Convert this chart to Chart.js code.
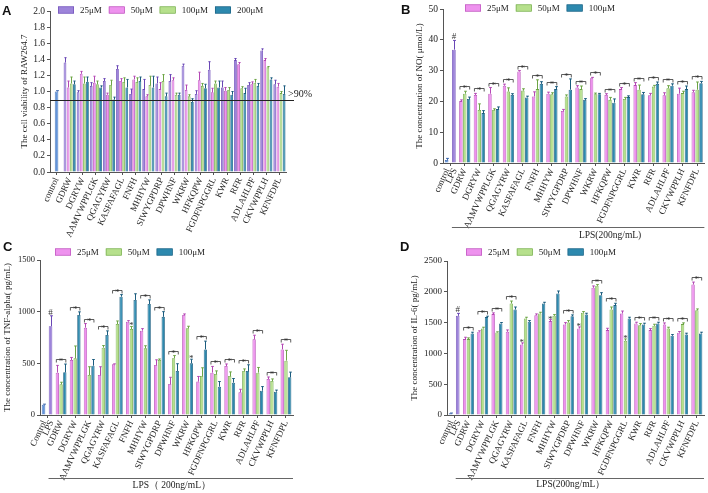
<!DOCTYPE html>
<html>
<head>
<meta charset="utf-8">
<title>Peptide assays</title>
<script src="https://cdn.jsdelivr.net/npm/chart.js@4.4.1/dist/chart.umd.min.js"></script>
<style>
  body { margin: 0; background: #fff; }
  #fig { position: relative; width: 708px; height: 493px; overflow: hidden; background: #fff; }
  .box { position: absolute; }
  .tag { position: absolute; font: bold 13px "Liberation Sans", Arial, sans-serif; color: #111; line-height: 1; }
</style>
</head>
<body>
<div id="fig">
  <div class="box" style="left:0;top:0;width:345px;height:243px"><canvas id="chartA"></canvas></div>
  <div class="box" style="left:355px;top:0;width:353px;height:243px"><canvas id="chartB"></canvas></div>
  <div class="box" style="left:0;top:245px;width:345px;height:248px"><canvas id="chartC"></canvas></div>
  <div class="box" style="left:355px;top:245px;width:353px;height:248px"><canvas id="chartD"></canvas></div>
  <div class="tag" style="left:2px;top:4px">A</div>
  <div class="tag" style="left:401px;top:3px">B</div>
  <div class="tag" style="left:3px;top:240px">C</div>
  <div class="tag" style="left:400px;top:240px">D</div>
</div>
<script>
const SERIF = '"Liberation Serif", "Times New Roman", serif';
Chart.defaults.font.family = SERIF;
Chart.defaults.color = '#222';
Chart.defaults.animation = false;

const peptides = ['GDRW', 'DGRYW', 'AAMVWPPLGK', 'QGAGYRW', 'KASFAFAGL', 'FNFH', 'MHHYW', 'SIWYGPDRP',
  'DPWHNF', 'WKRW', 'HFKQPW', 'FGDFNPGGRL', 'KWR', 'RFR', 'ADLAHLPF', 'CKVWPPLH', 'KFNFDPL'];

// A - cell viability of RAW264.7
const viabControl = [1.00];
const viabControlErr = [0.01];
const viab25  = [1.36, 0.99, 1.07, 1.13, 1.28, 0.97, 1.03, 1.10, 1.13, 1.32, 0.97, 1.27, 1.05, 1.39, 1.08, 1.51, 1.09];
const viab50  = [1.05, 1.22, 1.11, 0.96, 1.13, 1.15, 0.94, 1.03, 1.14, 1.02, 1.14, 0.99, 1.01, 1.34, 1.09, 1.39, 1.06];
const viab100 = [1.10, 1.10, 1.09, 1.08, 1.12, 1.12, 1.08, 1.13, 0.96, 0.94, 1.07, 1.10, 1.02, 1.04, 1.11, 1.30, 0.98];
const viab200 = [1.09, 1.12, 1.05, 0.90, 1.05, 1.13, 1.05, 0.94, 0.96, 0.87, 1.04, 1.05, 0.96, 0.98, 1.07, 1.15, 0.97];
const viab25Err  = [0.06, 0.02, 0.04, 0.03, 0.04, 0.06, 0.12, 0.08, 0.08, 0.02, 0.04, 0.10, 0.08, 0.02, 0.03, 0.02, 0.05];
const viab50Err  = [0.08, 0.03, 0.08, 0.02, 0.03, 0.04, 0.02, 0.08, 0.03, 0.06, 0.10, 0.05, 0.04, 0.02, 0.03, 0.02, 0.04];
const viab100Err = [0.08, 0.08, 0.04, 0.06, 0.05, 0.05, 0.11, 0.08, 0.02, 0.02, 0.03, 0.03, 0.03, 0.02, 0.04, 0.01, 0.02];
const viab200Err = [0.04, 0.06, 0.02, 0.03, 0.10, 0.05, 0.14, 0.04, 0.02, 0.04, 0.05, 0.08, 0.04, 0.06, 0.03, 0.02, 0.10];

// B - NO (umol/L)
const noControl = [1.0], noControlErr = [0.5];
const noLps = [36.8], noLpsErr = [3.0];
const no25  = [20.1, 22.1, 22.5, 25.1, 29.7, 21.6, 22.5, 16.9, 24.5, 27.5, 22.1, 24.0, 25.3, 22.0, 22.0, 22.5, 23.0];
const no50  = [22.5, 17.2, 17.2, 23.2, 23.5, 24.0, 22.3, 21.6, 24.0, 22.3, 20.5, 20.8, 23.8, 24.8, 24.3, 22.7, 23.8];
const no100 = [20.8, 16.2, 17.5, 22.1, 21.3, 25.7, 24.0, 23.8, 20.5, 22.3, 19.6, 21.4, 22.3, 25.7, 25.1, 24.0, 25.9];
const no25Err  = [0.4, 0.5, 2.0, 0.5, 0.3, 1.5, 0.5, 0.5, 0.6, 0.3, 0.4, 0.5, 0.8, 0.6, 0.8, 1.8, 0.6];
const no50Err  = [0.8, 2.0, 0.4, 1.2, 0.6, 3.0, 0.5, 0.5, 1.0, 0.4, 0.8, 0.5, 1.5, 0.4, 0.8, 0.6, 2.5];
const no100Err = [0.6, 0.8, 0.7, 0.4, 0.4, 0.7, 0.8, 3.5, 0.4, 0.3, 1.2, 0.4, 0.6, 0.6, 0.6, 1.0, 0.6];
const noMarks = ['b', 'b', 'b', 'b', 'b', 'b', 'b', 'b', 'b', 'b', 'b', 'b', 'b', 'b', 'b', 'b', 'b'];

// C - TNF-alpha (pg/mL)
const tnfControl = [100], tnfControlErr = [5];
const tnfLps = [860], tnfLpsErr = [100];
const tnf25  = [410, 532, 845, 387, 490, 903, 816, 484, 300, 968, 323, 410, 474, 219, 732, 348, 635];
const tnf50  = [297, 548, 387, 652, 880, 832, 645, 532, 550, 839, 377, 397, 377, 426, 410, 329, 526];
const tnf100 = [413, 968, 477, 774, 1145, 1113, 1074, 950, 426, 500, 635, 274, 313, 426, 235, 226, 365];
const tnf25Err  = [70, 25, 40, 80, 5, 10, 20, 50, 65, 10, 50, 60, 20, 30, 40, 20, 50];
const tnf50Err  = [20, 120, 80, 20, 30, 25, 25, 10, 25, 20, 80, 30, 40, 20, 50, 20, 100];
const tnf100Err = [80, 30, 60, 40, 20, 60, 40, 50, 70, 40, 80, 50, 40, 60, 40, 15, 50];
const tnfMarks = ['b', 'b', 'b', 'b', 'b', 's1', 'b', 'b', 'b', 's2', 'b', 'b', 'b', 'b', 'b', 'b', 'b'];

// D - IL-6 (pg/mL)
const il6Control = [27], il6ControlErr = [5];
const il6Lps = [1610], il6LpsErr = [40];
const il625  = [1232, 1351, 1638, 1351, 1146, 1621, 1524, 1470, 1405, 2065, 1378, 1648, 1486, 1378, 1470, 1335, 2118];
const il650  = [1232, 1405, 1340, 1810, 1567, 1648, 1610, 1503, 1659, 2097, 1713, 1205, 1459, 1448, 1405, 1476, 1702];
const il6100 = [1324, 1589, 1486, 1713, 1513, 1810, 1973, 1605, 1632, 1946, 1784, 1567, 1470, 1486, 1286, 1308, 1324];
const il625Err  = [30, 15, 20, 30, 25, 20, 25, 30, 25, 30, 30, 40, 20, 25, 25, 20, 40];
const il650Err  = [20, 20, 10, 40, 20, 20, 20, 30, 20, 20, 40, 30, 25, 25, 20, 20, 20];
const il6100Err = [20, 15, 15, 40, 20, 20, 40, 20, 20, 40, 30, 20, 20, 20, 20, 20, 20];
const il6Marks = ['b', 'b', 'b', 'b', 's0', '', 's0', 'b', 's0', 'b', 'b', 's1', 'b', 'b', 'b', 'b', 'b'];

const colors = {
  purple: ['#9d84da', '#6946b5'],
  pink:   ['#ee92ee', '#b448b4'],
  green:  ['#b6e08c', '#6da545'],
  blue:   ['#2d89ae', '#1b5c7e'],
  ctrl:   ['#6294da', '#3b66ad']
};

const none = peptides.map(() => null);
const ROT = 65;

function bars(label, data, err, c, extra) {
  return Object.assign({
    label, data, err,
    backgroundColor: c[0], borderColor: c[1], borderWidth: 0.8
  }, extra || {});
}
// single bars (control / LPS) sit alone in the first category
function single(label, v, e, c) {
  return bars(label, [v[0], ...none], [e[0], ...none], c, { maxBarThickness: 3.6, categoryPercentage: 1, single: true });
}
function series(label, v, e, c) {
  return bars(label, [null, ...v], [null, ...e], c, { inLegend: true });
}

// error bars, significance brackets, legend, reference line, LPS bracket
const extras = {
  id: 'extras',
  afterDatasetsDraw(chart, args, o) {
    const ctx = chart.ctx, ys = chart.scales.y, area = chart.chartArea;
    const dsets = chart.data.datasets;
    const topOf = (i, j) => ys.getPixelForValue(dsets[i].data[j] + (dsets[i].err[j] || 0));
    ctx.save();
    ctx.lineWidth = 1;
    dsets.forEach((ds, i) => {
      chart.getDatasetMeta(i).data.forEach((bar, j) => {
        const v = ds.data[j], e = ds.err[j];
        if (v == null || !e) return;
        const yt = topOf(i, j);
        const x = Math.round(bar.x) + 0.5;
        const cap = Math.max(bar.width * 0.4, 1);
        ctx.strokeStyle = ds.borderColor;
        ctx.beginPath();
        ctx.moveTo(x, bar.y); ctx.lineTo(x, yt);
        ctx.moveTo(x - cap, yt); ctx.lineTo(x + cap, yt);
        ctx.stroke();
      });
    });

    // labels of the single bars in the first category (control, LPS)
    if (o.firstLabels) {
      ctx.font = '9px ' + SERIF;
      ctx.fillStyle = '#222';
      ctx.textAlign = 'right';
      ctx.textBaseline = 'middle';
      dsets.forEach((ds, i) => {
        if (!ds.single) return;
        const b = chart.getDatasetMeta(i).data[0];
        ctx.save();
        ctx.translate(b.x + 1, area.bottom + 6);
        ctx.rotate(-ROT * Math.PI / 180);
        ctx.fillText(ds.label, 0, 0);
        ctx.restore();
      });
    }

    // significance marks
    ctx.font = '9px ' + SERIF;
    ctx.textAlign = 'center';
    ctx.textBaseline = 'alphabetic';
    ctx.strokeStyle = '#333';
    ctx.fillStyle = '#333';
    ctx.lineWidth = 0.8;
    (o.marks || []).forEach((m, k) => {
      if (!m) return;
      const j = k + 1;
      const sets = o.sigSets;
      const tops = sets.map(i => topOf(i, j));
      const xs = sets.map(i => chart.getDatasetMeta(i).data[j].x);
      if (m === 'b') {
        const yb = Math.round(Math.min(...tops) - 5) + 0.5;
        const x0 = xs[0] - 1, x1 = xs[xs.length - 1] + 1;
        ctx.beginPath();
        ctx.moveTo(x0, yb + 3); ctx.lineTo(x0, yb); ctx.lineTo(x1, yb); ctx.lineTo(x1, yb + 3);
        ctx.stroke();
        ctx.fillText('*', (x0 + x1) / 2, yb + 4);
      } else {
        const n = +m.slice(1);
        ctx.fillText('*', xs[n], tops[n] + 2);
      }
    });
    if (o.hash != null) {
      const b = chart.getDatasetMeta(o.hash).data[0];
      ctx.fillText('#', b.x, topOf(o.hash, 0) - 1);
    }

    // reference line (>90%)
    if (o.refLine) {
      const y = Math.round(ys.getPixelForValue(o.refLine.value)) + 0.5;
      ctx.strokeStyle = '#222';
      ctx.lineWidth = 1;
      ctx.beginPath();
      ctx.moveTo(area.left, y); ctx.lineTo(area.right + 8, y);
      ctx.stroke();
      ctx.font = '10px ' + SERIF;
      ctx.fillStyle = '#222';
      ctx.textAlign = 'left';
      ctx.fillText(o.refLine.text, area.right + 2, y - 4);
    }

    // LPS treatment line under the axis labels
    if (o.lps) {
      const lx = chart.getDatasetMeta(o.lps.from).data[0].x;
      const y = Math.round(area.bottom + o.lps.dy) + 0.5;
      ctx.strokeStyle = '#666';
      ctx.lineWidth = 1;
      ctx.beginPath();
      ctx.moveTo(lx - 2, y); ctx.lineTo(area.right, y);
      ctx.stroke();
      ctx.font = '9.5px ' + SERIF;
      ctx.fillStyle = '#222';
      ctx.textAlign = 'center';
      ctx.textBaseline = 'middle';
      ctx.fillText(o.lps.text, (lx + area.right) / 2 + o.lps.dx, area.bottom + o.lps.ty);
    }

    // legend
    if (o.legend) {
      let x = o.legend.x;
      const y = o.legend.y;
      ctx.font = '9px ' + SERIF;
      ctx.textAlign = 'left';
      ctx.textBaseline = 'middle';
      dsets.filter(d => d.inLegend).forEach(d => {
        ctx.fillStyle = d.backgroundColor;
        ctx.fillRect(x, y - 3.5, 16, 7);
        ctx.strokeStyle = d.borderColor;
        ctx.lineWidth = 0.6;
        ctx.strokeRect(x + 0.3, y - 3.2, 15.4, 6.4);
        ctx.fillStyle = '#222';
        ctx.fillText(d.label, x + 22, y + 0.5);
        x += 22 + ctx.measureText(d.label).width + 7;
      });
    }
    ctx.restore();
  }
};

function yAxis(min, max, step, title, width, titlePad, fontSize, fmt) {
  return {
    min, max,
    ticks: { stepSize: step, color: '#222', font: { size: fontSize }, padding: 2, callback: fmt },
    grid: { display: true, drawOnChartArea: false, tickLength: 3, color: '#555' },
    border: { color: '#555', width: 1 },
    title: { display: true, text: title, color: '#222', font: { size: 9, lineHeight: 1 }, padding: { top: titlePad, bottom: 0 } },
    afterFit(s) { s.width = width; }
  };
}
function xAxis(height, skipFirst) {
  return {
    ticks: {
      autoSkip: false, maxRotation: ROT, minRotation: ROT, color: '#222', font: { size: 9 }, padding: 1,
      callback(v, i) { return skipFirst && i === 0 ? '' : this.getLabelForValue(v); }
    },
    grid: { display: true, drawOnChartArea: false, offset: false, tickLength: 3, color: '#555' },
    border: { color: '#555', width: 1 },
    afterFit(s) { s.height = height; }
  };
}
function make(id, labels, datasets, y, xh, pad, extraOpts, groupPct) {
  new Chart(document.getElementById(id), {
    type: 'bar',
    data: { labels, datasets },
    options: {
      responsive: true,
      maintainAspectRatio: false,
      skipNull: true,
      categoryPercentage: groupPct,
      barPercentage: 0.88,
      layout: { padding: pad },
      scales: { x: xAxis(xh, !!extraOpts.firstLabels), y },
      plugins: { legend: { display: false }, tooltip: { enabled: false }, extras: extraOpts }
    },
    plugins: [extras]
  });
}

// A
make('chartA', ['control', ...peptides], [
  single('control', viabControl, viabControlErr, colors.ctrl),
  series('25\u03bcM', viab25, viab25Err, colors.purple),
  series('50\u03bcM', viab50, viab50Err, colors.pink),
  series('100\u03bcM', viab100, viab100Err, colors.green),
  series('200\u03bcM', viab200, viab200Err, colors.blue)
], yAxis(0, 2, 0.2, 'The cell viability of RAW264.7', 50, 20.5, 9.5, v => v.toFixed(1)),
  71, { left: 0, top: 11, right: 59, bottom: 0 },
  { legend: { x: 58, y: 10 }, refLine: { value: 0.9, text: '>90%' } }, 0.95);

// B
make('chartB', ['control / LPS', ...peptides], [
  single('control', noControl, noControlErr, colors.ctrl),
  single('LPS', noLps, noLpsErr, colors.purple),
  series('25\u03bcM', no25, no25Err, colors.pink),
  series('50\u03bcM', no50, no50Err, colors.green),
  series('100\u03bcM', no100, no100Err, colors.blue)
], yAxis(0, 50, 10, 'The concentration of NO( \u03bcmol/L)', 88, 60.5, 9.5),
  80, { left: 0, top: 9, right: 3, bottom: 0 },
  { legend: { x: 110, y: 8 }, marks: noMarks, sigSets: [2, 3, 4], hash: 1, firstLabels: true,
    lps: { from: 1, dy: 64, ty: 72, dx: 31, text: 'LPS(200ng/mL)' } }, 0.8);

// C
make('chartC', ['Control / LPS', ...peptides], [
  single('Control', tnfControl, tnfControlErr, colors.ctrl),
  single('LPS', tnfLps, tnfLpsErr, colors.purple),
  series('25\u03bcM', tnf25, tnf25Err, colors.pink),
  series('50\u03bcM', tnf50, tnf50Err, colors.green),
  series('100\u03bcM', tnf100, tnf100Err, colors.blue)
], yAxis(0, 1500, 500, 'The concentration of TNF-alpha( pg/mL)', 40, 3.5, 8.5),
  78, { left: 0, top: 15, right: 52, bottom: 0 },
  { legend: { x: 55, y: 7 }, marks: tnfMarks, sigSets: [2, 3, 4], hash: 1, firstLabels: true,
    lps: { from: 1, dy: 63, ty: 70, dx: 0, text: 'LPS\uff08 200ng/mL\uff09' } }, 0.8);

// D
make('chartD', ['control / LPS', ...peptides], [
  single('control', il6Control, il6ControlErr, colors.ctrl),
  single('LPS', il6Lps, il6LpsErr, colors.purple),
  series('25\u03bcM', il625, il625Err, colors.pink),
  series('50\u03bcM', il650, il650Err, colors.green),
  series('100\u03bcM', il6100, il6100Err, colors.blue)
], yAxis(0, 2500, 500, 'The concentration of IL-6( pg/mL)', 92, 55.5, 9),
  78, { left: 0, top: 16, right: 4, bottom: 0 },
  { legend: { x: 111, y: 7 }, marks: il6Marks, sigSets: [2, 3, 4], hash: 1, firstLabels: true,
    lps: { from: 1, dy: 63, ty: 69, dx: -10, text: 'LPS(200ng/mL\uff09' } }, 0.8);
</script>
</body>
</html>
